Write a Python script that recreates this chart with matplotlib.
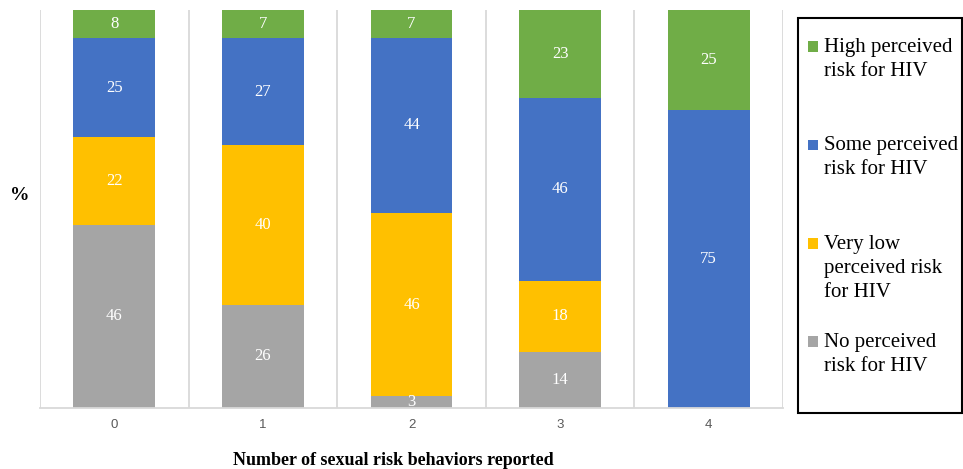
import matplotlib
matplotlib.use("Agg")
import matplotlib.pyplot as plt
from matplotlib.patches import Rectangle
from matplotlib.legend_handler import HandlerPatch

# 데이터
categories = ["0", "1", "2", "3", "4"]
no_risk = [46, 26, 3, 14, 0]
very_low = [22, 40, 46, 18, 0]
some_risk = [25, 27, 44, 46, 75]
high_risk = [8, 7, 7, 23, 25]

series_names = ["No perceived\nrisk for HIV", "Very low\nperceived risk\nfor HIV",
                "Some perceived\nrisk for HIV", "High perceived\nrisk for HIV"]
series_values = [no_risk, very_low, some_risk, high_risk]
colors = ["#A5A5A5", "#FFC000", "#4472C4", "#70AD47"]

SERIF = "Liberation Serif"
Y_MAX = 100


class FirstLineHandler(HandlerPatch):
    """범례 마커를 첫 줄에 맞춤"""

    def __init__(self, shift, **kw):
        super().__init__(**kw)
        self.shift = shift

    def create_artists(self, legend, orig_handle, xdescent, ydescent,
                       width, height, fontsize, trans):
        size = 0.5 * fontsize
        p = Rectangle((-xdescent + width - size, -ydescent + (height - size) / 2 + self.shift * fontsize),
                      size, size, facecolor=orig_handle.get_facecolor(),
                      edgecolor="none", transform=trans)
        return [p]


fig = plt.figure(figsize=(9.63, 4.69), dpi=100)
ax = fig.add_axes([40 / 963, 1 - 408 / 469, (783 - 40) / 963, (408 - 10) / 469])

x = list(range(len(categories)))
bottom = [0] * len(categories)
containers = []
for vals, col in zip(series_values, colors):
    bars = ax.bar(x, vals, width=0.55, bottom=bottom, color=col, zorder=2)
    containers.append(bars)
    # 값 레이블: 보이는 구간의 가운데
    for xi, b, v in zip(x, bottom, vals):
        if v:
            yc = (b + min(b + v, Y_MAX)) / 2
            ax.text(xi, yc, str(v), ha="center", va="center", color="white",
                    fontsize=12, family=SERIF, zorder=3)
    bottom = [b + v for b, v in zip(bottom, vals)]

ax.set_xlim(-0.5, len(categories) - 0.5)
ax.set_ylim(0, Y_MAX)
for b in range(len(categories) + 1):
    ax.axvline(b - 0.5, color="#D9D9D9", linewidth=1.3, zorder=1)
for s in ["top", "left", "right"]:
    ax.spines[s].set_visible(False)
ax.spines["bottom"].set_color("#D9D9D9")
ax.spines["bottom"].set_linewidth(1.3)
ax.set_yticks([])
ax.set_xticks(x)
ax.set_xticklabels(categories, color="#595959", fontsize=9.5, family="Liberation Sans")
ax.tick_params(axis="x", length=0, pad=8)

fig.text(393 / 963, 1 - 460 / 469, "Number of sexual risk behaviors reported",
         ha="center", va="center", fontsize=13, fontweight="bold", family=SERIF)
fig.text(20 / 963, 1 - 195 / 469, "%", ha="center", va="center",
         fontsize=14, fontweight="bold", family=SERIF)

# 범례 테두리
fig.patches.append(Rectangle((798 / 963, 1 - 413 / 469), 164 / 963, 395 / 469,
                             transform=fig.transFigure, fill=False,
                             edgecolor="black", linewidth=1.5))

# 범례 (위에서부터 High -> No)
order = [3, 2, 1, 0]
handles = [containers[i].patches[0] for i in order]
labels = []
for i in order:
    lab = series_names[i]
    if lab.count("\n") < 2:
        lab = lab + "\n"
    labels.append(lab)

leg = fig.legend(handles, labels, loc="upper left",
                 bbox_to_anchor=(808 / 963, 1 - 38 / 469),
                 prop={"family": SERIF, "size": 15}, frameon=False,
                 handlelength=0.5, handletextpad=0.25, labelspacing=1.5,
                 borderpad=0, borderaxespad=0,
                 handler_map={h: FirstLineHandler(1.18) for h in handles})
for t in leg.get_texts():
    t.set_linespacing(1.36)

fig.savefig("out.png", dpi=100)
